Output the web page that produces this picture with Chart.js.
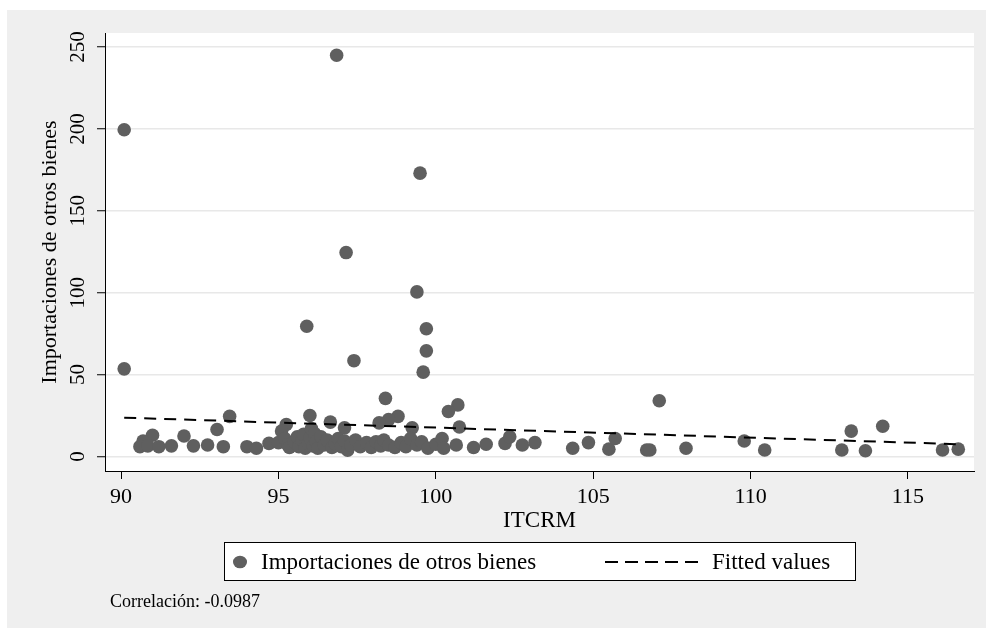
<!DOCTYPE html>
<html>
<head>
<meta charset="utf-8">
<script src="https://cdn.jsdelivr.net/npm/chart.js@4.4.1/dist/chart.umd.min.js"></script>
<style>
  html, body { margin: 0; padding: 0; background: #ffffff; }
  #bg { position: absolute; left: 7px; top: 10px; width: 979px; height: 618px; background: #efefef; }
  #wrap { position: absolute; left: 0; top: 0; width: 986px; height: 628px; }
</style>
</head>
<body>
<div id="bg"></div>
<div id="wrap"><canvas id="chart" width="986" height="628"></canvas></div>
<script>
// scatter: ITCRM (x) vs importaciones de otros bienes (y)
const itcrm = [
  90.1, 90.1, 96.85, 99.5, 97.15, 99.4, 95.9, 99.7, 99.7, 97.4, 99.6, 98.4, 107.1, 100.7, 100.4, 114.2, 113.2,
  93.45, 96.0, 98.8, 98.5, 96.65, 95.25, 98.2, 99.25, 100.75, 97.1, 93.05, 92.0, 91.0, 90.7,
  90.6, 90.85, 91.2, 91.6, 92.3, 92.75, 93.25, 94.0, 94.3, 94.7, 95.0,
  95.1, 95.2, 95.3, 95.35, 95.5, 95.6, 95.65, 95.75, 95.8, 95.85, 95.95, 96.0, 96.05, 96.1, 96.15, 96.2,
  96.25, 96.35, 96.45, 96.55, 96.7, 96.8, 96.9, 97.0, 97.1, 97.2, 97.3, 97.45, 97.6, 97.8, 97.95, 98.1,
  98.25, 98.35, 98.5, 98.7, 98.9, 99.05, 99.2, 99.4, 99.55, 99.75, 100.0, 100.2, 100.25, 100.65,
  101.2, 101.6, 102.2, 102.35, 102.75, 103.15, 104.35, 104.85, 105.5, 105.7, 106.7, 106.8, 107.95,
  109.8, 110.45, 112.9, 113.65, 116.1, 116.6
];
const importaciones = [
  199.5, 53.5, 245, 173, 124.5, 100.5, 79.5, 78, 64.5, 58.5, 51.5, 35.5, 34, 31.5, 27.5, 18.5, 15.5,
  24.5, 25, 24.5, 22.5, 21, 19.5, 20.5, 17.5, 18, 17.5, 16.5, 12.5, 13, 9.5,
  6, 6.5, 6, 6.5, 6.5, 7, 6, 6, 5, 8, 8.5,
  15.5, 11, 7, 5.5, 9, 12, 6, 10, 13.5, 5, 8, 11.5, 17, 6.5, 14, 9,
  5, 12, 7, 10, 5.5, 8, 11, 6, 9.5, 3.8, 7, 10, 6, 8.5, 5.5, 9,
  6.5, 10, 7, 5.5, 8.5, 6, 11, 7, 9, 5, 7.5, 11, 5, 7,
  5.5, 7.5, 8, 12, 7, 8.5, 5, 8.5, 4.5, 11, 4, 4, 5,
  9.5, 4, 4, 3.5, 4, 4.5
];
// fitted values (linear fit) at the ends of the x range
const fitX = [90.1, 116.6];
const fitY = [23.7, 7.5];

const xTicks = [90, 95, 100, 105, 110, 115];
const yTicks = [0, 50, 100, 150, 200, 250];

const serif = "'Liberation Serif', 'Times New Roman', serif";
const dotColor = '#5f5f5f';

const scatterPts = itcrm.map((x, i) => ({ x: x, y: importaciones[i] }));
const fitPts = fitX.map((x, i) => ({ x: x, y: fitY[i] }));

const stataPlugin = {
  id: 'stata',
  beforeDraw(chart) {
    const { ctx, chartArea: a } = chart;
    ctx.save();
    ctx.fillStyle = '#ffffff';
    ctx.fillRect(a.left, a.top, a.right - a.left, a.bottom - a.top);
    ctx.restore();
  },
  afterDraw(chart) {
    const ctx = chart.ctx;
    const ys = chart.scales.y;
    ctx.save();
    // rotated y tick labels
    ctx.fillStyle = '#000';
    ctx.font = '21px ' + serif;
    ctx.textAlign = 'center';
    ctx.textBaseline = 'middle';
    yTicks.forEach(v => {
      const py = ys.getPixelForValue(v);
      ctx.save();
      ctx.translate(78, py);
      ctx.rotate(-Math.PI / 2);
      ctx.fillText(String(v), 0, 0);
      ctx.restore();
    });

    // legend box
    const ds = chart.data.datasets;
    ctx.fillStyle = '#ffffff';
    ctx.fillRect(224, 542, 631, 38);
    ctx.strokeStyle = '#000';
    ctx.lineWidth = 1;
    ctx.strokeRect(224.5, 542.5, 631, 38);
    ctx.fillStyle = dotColor;
    ctx.beginPath();
    ctx.ellipse(240, 562, 7, 6.3, 0, 0, Math.PI * 2);
    ctx.fill();
    ctx.fillStyle = '#000';
    ctx.font = '23px ' + serif;
    ctx.textAlign = 'left';
    ctx.fillText(ds[0].label, 261, 563);
    ctx.strokeStyle = '#000';
    ctx.lineWidth = 2;
    ctx.setLineDash([13, 7]);
    ctx.beginPath();
    ctx.moveTo(605, 562);
    ctx.lineTo(700, 562);
    ctx.stroke();
    ctx.setLineDash([]);
    ctx.fillText(ds[1].label, 712, 563);

    // note
    ctx.font = '18px ' + serif;
    ctx.fillText('Correlación: -0.0987', 110, 602);
    ctx.restore();
  }
};

new Chart(document.getElementById('chart'), {
  type: 'scatter',
  data: {
    datasets: [
      {
        label: 'Importaciones de otros bienes',
        data: scatterPts,
        backgroundColor: dotColor,
        borderColor: dotColor,
        borderWidth: 0,
        pointRadius: 6.8,
        pointHoverRadius: 6.8,
        order: 2
      },
      {
        label: 'Fitted values',
        type: 'line',
        data: fitPts,
        borderColor: '#000',
        borderWidth: 2,
        borderDash: [12, 8],
        pointRadius: 0,
        fill: false,
        order: 1
      }
    ]
  },
  options: {
    responsive: false,
    animation: false,
    devicePixelRatio: 1,
    layout: { padding: { left: 0, top: 33, right: 12, bottom: 93 } },
    plugins: {
      legend: { display: false },
      tooltip: { enabled: false }
    },
    scales: {
      x: {
        type: 'linear',
        min: 89.49,
        max: 117.1,
        afterBuildTicks: s => { s.ticks = xTicks.map(v => ({ value: v })); },
        afterFit: s => { s.height = 64; },
        grid: { drawOnChartArea: false, drawTicks: true, tickLength: 8, color: '#000', tickColor: '#000' },
        border: { display: true, color: '#000', width: 1 },
        ticks: { color: '#000', padding: 5, maxRotation: 0, font: { family: serif, size: 22 } },
        title: { display: true, text: 'ITCRM', color: '#000', padding: { top: 0, bottom: 0 }, font: { family: serif, size: 23 } }
      },
      y: {
        type: 'linear',
        min: -8.85,
        max: 258.55,
        afterBuildTicks: s => { s.ticks = yTicks.map(v => ({ value: v })); },
        afterFit: s => { s.width = 105; },
        grid: { drawOnChartArea: true, drawTicks: true, tickLength: 8, color: '#e8e8e8', lineWidth: 1.5, tickColor: '#000', tickWidth: 1 },
        border: { display: true, color: '#000', width: 1 },
        ticks: { display: false },
        title: { display: true, text: 'Importaciones de otros bienes', color: '#000', padding: { top: 37, bottom: 0 }, font: { family: serif, size: 22 } }
      }
    }
  },
  plugins: [stataPlugin]
});
</script>
</body>
</html>
